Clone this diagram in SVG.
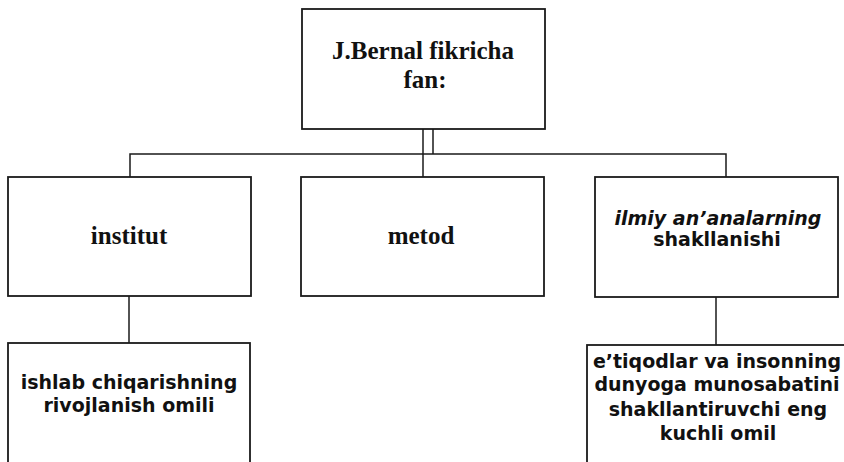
<svg xmlns="http://www.w3.org/2000/svg" width="844" height="462" viewBox="0 0 844 462">
<style>
.box{fill:#fff;stroke:#1a1a1a;stroke-width:1.8}
.con{fill:none;stroke:#1a1a1a;stroke-width:1.5}
.serif{font-family:"Liberation Serif","Times New Roman",serif;font-weight:bold;font-size:25px;fill:#111;text-anchor:middle}
.sans{font-family:"DejaVu Sans","Noto Sans",sans-serif;font-weight:bold;font-size:19px;fill:#111;text-anchor:middle}
</style>
<rect width="844" height="462" fill="#fff"/>
<g id="connectors">
<path class="con" d="M423 129 V177"/>
<path class="con" d="M433 129 V154"/>
<path class="con" d="M130 177 V154 H726 V177"/>
<path class="con" d="M129 296 V343"/>
<path class="con" d="M716 297 V345"/>
</g>
<g id="root">
<rect class="box" x="302" y="9" width="243" height="120"/>
<text class="serif" x="423" y="59">J.Bernal fikricha</text>
<text class="serif" x="425" y="88">fan:</text>
</g>
<g id="institut">
<rect class="box" x="8" y="177" width="243" height="119"/>
<text class="serif" x="129" y="244">institut</text>
</g>
<g id="metod">
<rect class="box" x="301" y="177" width="243" height="119"/>
<text class="serif" x="421" y="244">metod</text>
</g>
<g id="ilmiy">
<rect class="box" x="595" y="177" width="243" height="120"/>
<text class="sans" x="718" y="225" font-style="italic">ilmiy an’analarning</text>
<text class="sans" x="717" y="246">shakllanishi</text>
</g>
<g id="ishlab">
<rect class="box" x="8" y="343" width="242" height="130"/>
<text class="sans" x="129" y="389" font-size="18.5">ishlab chiqarishning</text>
<text class="sans" x="129" y="412" font-size="18.5">rivojlanish omili</text>
</g>
<g id="etiqod">
<rect class="box" x="587" y="345" width="270" height="130"/>
<text class="sans" x="717" y="368">e’tiqodlar va insonning</text>
<text class="sans" x="717" y="391">dunyoga munosabatini</text>
<text class="sans" x="718" y="416">shakllantiruvchi eng</text>
<text class="sans" x="718" y="440">kuchli omil</text>
</g>
</svg>
